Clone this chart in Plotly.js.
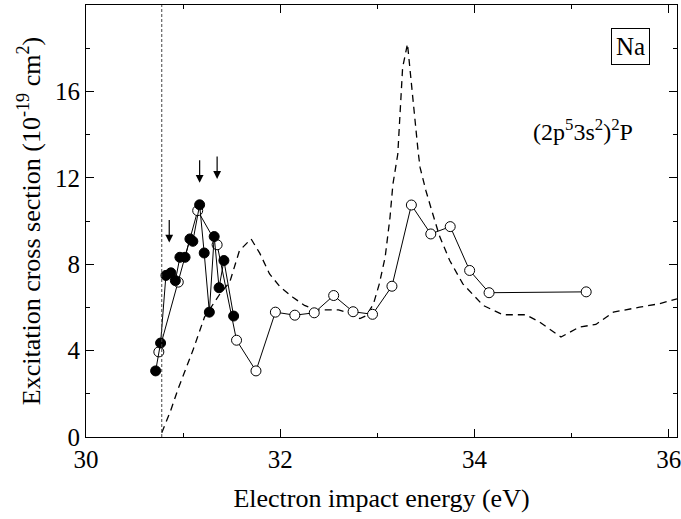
<!DOCTYPE html>
<html>
<head>
<meta charset="utf-8">
<script src="https://cdn.plot.ly/plotly-3.0.1.min.js"></script>
<style>html,body{margin:0;padding:0;background:#fff;}#chart{width:681px;height:519px;}</style>
</head>
<body>
<div id="chart"></div>
<script>
// Filled circles (experiment 1)
const filledX = [30.717, 30.768, 30.823, 30.874, 30.92, 30.967, 31.02, 31.07, 31.10, 31.17, 31.217, 31.27, 31.32, 31.37, 31.42, 31.52];
const filledY = [3.06, 4.35, 7.48, 7.6, 7.24, 8.32, 8.32, 9.17, 9.06, 10.75, 8.52, 5.78, 9.28, 6.91, 8.17, 5.6];

// Open circles (experiment 2)
const openX = [30.75, 30.95, 31.15, 31.35, 31.55, 31.75, 31.95, 32.15, 32.35, 32.55, 32.75, 32.95, 33.15, 33.35, 33.55, 33.75, 33.95, 34.15, 35.15];
const openY = [3.94, 7.17, 10.48, 8.9, 4.48, 3.06, 5.78, 5.64, 5.75, 6.55, 5.8, 5.68, 6.98, 10.74, 9.4, 9.74, 7.71, 6.68, 6.72];

// Theory (dashed)
const theoryX = [30.78, 30.87, 30.95, 31.10, 31.22, 31.38, 31.48, 31.58, 31.70, 31.79, 31.89, 32.00, 32.13, 32.25, 32.36, 32.60, 32.72, 32.82, 32.89, 32.96, 33.02, 33.08, 33.13, 33.16, 33.21, 33.26, 33.31, 33.35, 33.42, 33.44, 33.50, 33.56, 33.64, 33.745, 33.88, 34.09, 34.29, 34.53, 34.67, 34.89, 35.08, 35.25, 35.43, 35.70, 35.905, 36.085];
const theoryY = [0.2, 1.2, 2.25, 4.0, 5.55, 6.63, 7.17, 8.63, 9.17, 8.5, 7.55, 6.94, 6.47, 6.09, 5.89, 5.89, 5.71, 5.48, 5.63, 6.17, 7.09, 8.32, 10.17, 11.7, 13.09, 17.1, 18.2, 16.3, 13.2, 12.47, 11.4, 10.48, 9.3, 8.17, 7.09, 6.09, 5.66, 5.66, 5.32, 4.63, 5.09, 5.21, 5.78, 6.01, 6.17, 6.4];

// Threshold and arrows
const thresholdX = 30.78;
const arrowX = [30.857, 31.17, 31.35];
const arrowY = [9.0, 11.77, 11.95];

const xTickVals = [30, 32, 34, 36];
const yTickVals = [0, 4, 8, 12, 16];

const fam = '"Liberation Serif", "Times New Roman", serif';
const tickFont = {family: fam, size: 25, color: '#000'};
const titleFont = {family: fam, size: 26, color: '#000'};

const traces = [
  {x: theoryX, y: theoryY, mode: 'lines', line: {color: '#000', width: 1.3, dash: '7px,5px'}, hoverinfo: 'skip'},
  {x: openX, y: openY, mode: 'lines+markers', line: {color: '#000', width: 1},
   marker: {symbol: 'circle', size: 10, color: '#fff', line: {color: '#000', width: 1}}},
  {x: filledX, y: filledY, mode: 'lines+markers', line: {color: '#000', width: 1},
   marker: {symbol: 'circle', size: 10, color: '#000', line: {color: '#000', width: 1}}}
];

const annotations = arrowX.map((ax, i) => ({
  x: ax, y: arrowY[i], xref: 'x', yref: 'y', text: '', showarrow: true,
  arrowhead: 2, arrowsize: 1.3, arrowwidth: 1.2, arrowcolor: '#000', ax: 0, ay: -24
}));
annotations.push({
  xref: 'paper', yref: 'paper', x: 0.921, y: 0.904, text: 'Na', showarrow: false,
  font: {family: fam, size: 25, color: '#000'}, bordercolor: '#000', borderwidth: 1, borderpad: 4,
  xanchor: 'center', yanchor: 'middle'
});
annotations.push({
  xref: 'paper', yref: 'paper', x: 0.841, y: 0.711,
  text: '(2p<sup>5</sup>3s<sup>2</sup>)<sup>2</sup>P', showarrow: false,
  font: {family: fam, size: 24, color: '#000'}, xanchor: 'center', yanchor: 'middle'
});

const layout = {
  width: 681, height: 519,
  margin: {l: 86, r: 4, t: 5, b: 82},
  paper_bgcolor: '#fff', plot_bgcolor: '#fff',
  showlegend: false,
  font: tickFont,
  xaxis: {
    range: [30, 36.085], tickvals: xTickVals, ticks: 'inside', ticklen: 8, tickwidth: 1, tickcolor: '#000',
    showline: true, linecolor: '#000', linewidth: 1, mirror: 'ticks', showgrid: false, zeroline: false,
    minor: {dtick: 1, tick0: 30, ticks: 'inside', ticklen: 4, tickcolor: '#000', showgrid: false},
    title: {text: 'Electron impact energy (eV)', font: titleFont, standoff: 16},
    tickfont: tickFont, ticklabeloverflow: 'allow'
  },
  yaxis: {
    range: [0, 20], tickvals: yTickVals, ticks: 'inside', ticklen: 8, tickwidth: 1, tickcolor: '#000',
    showline: true, linecolor: '#000', linewidth: 1, mirror: 'ticks', showgrid: false, zeroline: false,
    minor: {dtick: 2, tick0: 0, ticks: 'inside', ticklen: 4, tickcolor: '#000', showgrid: false},
    title: {text: 'Excitation cross section (10<sup>-19</sup> cm<sup>2</sup>)', font: titleFont, standoff: 6},
    tickfont: tickFont, ticklabeloverflow: 'allow'
  },
  shapes: [{type: 'line', xref: 'x', yref: 'paper', x0: thresholdX, x1: thresholdX, y0: 0, y1: 1,
    line: {color: '#444', width: 1, dash: '3px,2px'}}],
  annotations: annotations
};

Plotly.newPlot('chart', traces, layout, {displayModeBar: false, staticPlot: true});
</script>
</body>
</html>
